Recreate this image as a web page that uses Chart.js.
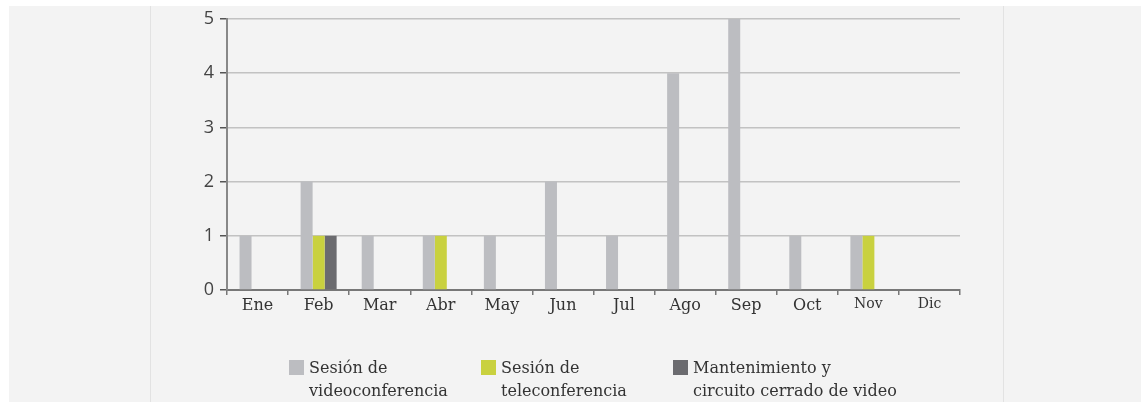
<!DOCTYPE html>
<html>
<head>
<meta charset="utf-8">
<script src="https://cdn.jsdelivr.net/npm/chart.js@4/dist/chart.umd.min.js"></script>
<style>
  html, body { margin: 0; padding: 0; background: #ffffff; }
  #stage { position: relative; width: 1141px; height: 402px; overflow: hidden; }
  #panel { position: absolute; left: 9px; top: 6px; right: 0; bottom: 0; background: #f3f3f3; }
  .rule { position: absolute; top: 6px; bottom: 0; width: 1px; background: #e2e2e2; }
  #chart { position: absolute; left: 0; top: 0; }
</style>
</head>
<body>
<div id="stage">
  <div id="panel"></div>
  <div class="rule" style="left:150px"></div>
  <div class="rule" style="left:1003px"></div>
  <canvas id="chart" width="1141" height="402"></canvas>
</div>
<script>
const months = ['Ene', 'Feb', 'Mar', 'Abr', 'May', 'Jun', 'Jul', 'Ago', 'Sep', 'Oct', 'Nov', 'Dic'];

const videoconferencia = [1, 2, 1, 1, 1, 2, 1, 4, 5, 1, 1, 0];
const teleconferencia = [0, 1, 0, 1, 0, 0, 0, 0, 0, 0, 1, 0];
const mantenimiento = [0, 1, 0, 0, 0, 0, 0, 0, 0, 0, 0, 0];

const seriesLabels = [
  ['Sesión de', 'videoconferencia'],
  ['Sesión de', 'teleconferencia'],
  ['Mantenimiento y', 'circuito cerrado de video']
];
const seriesColors = ['#bcbdc1', '#c9d13f', '#6b6b6f'];

const serif = '"DejaVu Serif", serif';

// legend drawn by hand: built-in one can't lay out two-line labels in a row
const twoLineLegend = {
  id: 'twoLineLegend',
  afterDraw(chart) {
    const { ctx, chartArea } = chart;
    const box = 15, gap = 5, step = 192, lineH = 23;
    const top = chart.height - 42;
    let x = chartArea.left + 62;
    ctx.save();
    ctx.font = '16px ' + serif;
    ctx.fillStyle = '#333';
    ctx.textBaseline = 'alphabetic';
    chart.data.datasets.forEach((ds, i) => {
      ctx.fillStyle = ds.backgroundColor;
      ctx.fillRect(x, top, box, box);
      ctx.fillStyle = '#333';
      ds.label.forEach((line, j) => {
        ctx.fillText(line, x + box + gap, top + 13 + j * lineH);
      });
      x += step;
    });
    ctx.restore();
  }
};

new Chart(document.getElementById('chart'), {
  type: 'bar',
  data: {
    labels: months,
    datasets: [
      { label: seriesLabels[0], data: videoconferencia, backgroundColor: seriesColors[0] },
      { label: seriesLabels[1], data: teleconferencia, backgroundColor: seriesColors[1] },
      { label: seriesLabels[2], data: mantenimiento, backgroundColor: seriesColors[2] }
    ]
  },
  options: {
    responsive: false,
    devicePixelRatio: 1,
    animation: false,
    layout: { padding: { left: 150, right: 181, top: 19, bottom: 82 } },
    datasets: { bar: { barThickness: 12, borderWidth: 0, inflateAmount: 0 } },
    plugins: {
      tooltip: { enabled: false },
      legend: { display: false }
    },
    scales: {
      x: {
        afterFit: (s) => { s.height = 30; },
        grid: { display: true, drawOnChartArea: false, drawTicks: true, tickLength: 5, color: '#777', lineWidth: 1.5 },
        border: { display: true, color: '#777', width: 2 },
        ticks: {
          padding: 1,
          color: '#333',
          font: (c) => ({ family: serif, size: c.index >= 10 ? 14 : 16 })
        }
      },
      y: {
        min: 0,
        max: 5,
        afterFit: (s) => { s.width = 77; },
        grid: { color: '#c2c2c2', lineWidth: 1.5, tickLength: 7, tickColor: '#555' },
        border: { display: true, color: '#888', width: 2 },
        ticks: {
          stepSize: 1,
          padding: 6,
          color: '#444',
          font: { family: '"Open Sans", sans-serif', size: 18 }
        }
      }
    }
  },
  plugins: [twoLineLegend]
});
</script>
</body>
</html>
